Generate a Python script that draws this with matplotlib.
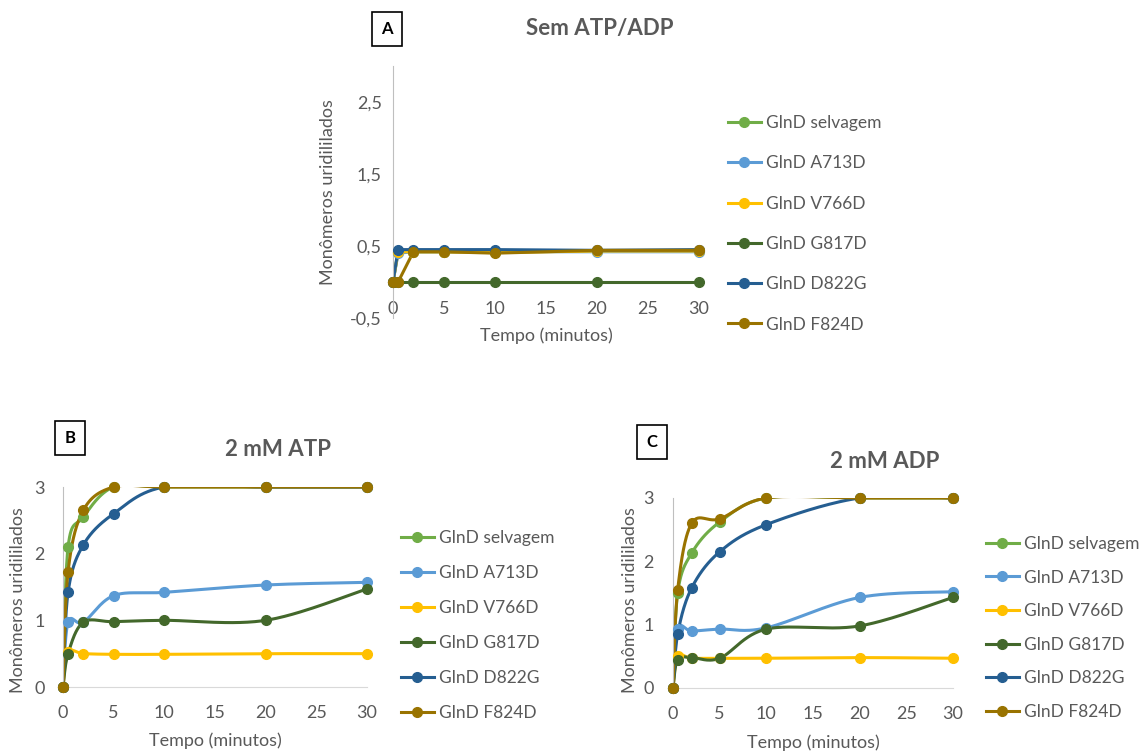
import numpy as np
import matplotlib.pyplot as plt
from matplotlib.ticker import FuncFormatter

plt.rcParams['font.family'] = ['Lato', 'DejaVu Sans']

# ============================================================
# Data
# ============================================================
tempo = [0, 0.5, 2, 5, 10, 20, 30]

series_names = ["GlnD selvagem", "GlnD A713D", "GlnD V766D",
                "GlnD G817D", "GlnD D822G", "GlnD F824D"]
series_colors = ["#70AD47", "#5B9BD5", "#FFC000",
                 "#43682B", "#255E91", "#997300"]

# A - Sem ATP/ADP
sem_selvagem = [0, 0.42, 0.42, 0.42, 0.42, 0.43, 0.43]
sem_a713d = [0, 0.40, 0.42, 0.42, 0.42, 0.42, 0.42]
sem_v766d = [0, 0.42, 0.42, 0.42, 0.41, 0.43, 0.43]
sem_g817d = [0, 0, 0, 0, 0, 0, 0]
sem_d822g = [0, 0.45, 0.45, 0.45, 0.45, 0.44, 0.45]
sem_f824d = [0, 0, 0.42, 0.42, 0.40, 0.44, 0.44]

# B - 2 mM ATP
atp_selvagem = [0, 2.10, 2.55, 3.0, 3.0, 3.0, 3.0]
atp_a713d = [0, 0.97, 0.97, 1.37, 1.42, 1.53, 1.57]
atp_v766d = [0, 0.52, 0.50, 0.49, 0.49, 0.50, 0.50]
atp_g817d = [0, 0.50, 0.97, 0.98, 1.00, 1.00, 1.47]
atp_d822g = [0, 1.42, 2.13, 2.60, 3.0, 3.0, 3.0]
atp_f824d = [0, 1.73, 2.65, 3.0, 3.0, 3.0, 3.0]

# C - 2 mM ADP
adp_selvagem = [0, 1.50, 2.13, 2.62, 3.0, 3.0, 3.0]
adp_a713d = [0, 0.93, 0.90, 0.93, 0.95, 1.43, 1.52]
adp_v766d = [0, 0.50, 0.47, 0.47, 0.47, 0.48, 0.47]
adp_g817d = [0, 0.45, 0.48, 0.47, 0.93, 0.98, 1.43]
adp_d822g = [0, 0.85, 1.58, 2.15, 2.58, 3.0, 3.0]
adp_f824d = [0, 1.55, 2.60, 2.67, 3.0, 3.0, 3.0]

grey = "#595959"


# ============================================================
# Excel-like smoothed line (Bezier through the points)
# ============================================================
def smooth_curve(x, y, sx, sy, n=30):
    p = np.column_stack([np.asarray(x, float) * sx, np.asarray(y, float) * sy])
    pts = []
    for i in range(len(p) - 1):
        p0 = p[i - 1] if i > 0 else p[i]
        p3 = p[i + 2] if i + 2 < len(p) else p[i + 1]
        c1 = p[i] + (p[i + 1] - p0) / 6.0
        c2 = p[i + 1] - (p3 - p[i]) / 6.0
        t = np.linspace(0, 1, n)[:, None]
        seg = ((1 - t) ** 3) * p[i] + 3 * ((1 - t) ** 2) * t * c1 \
            + 3 * (1 - t) * t ** 2 * c2 + t ** 3 * p[i + 1]
        pts.append(seg if i == 0 else seg[1:])
    pts = np.vstack(pts)
    return pts[:, 0] / sx, pts[:, 1] / sy


def draw_panel(ax, data, ylim, yticks, smooth, title, letter, title_xy, box_xy,
               legend_xy, legend_spacing, fs_pix, xpad, ypad, xlab_y, ylab_xy):
    for vals, name, col in zip(data, series_names, series_colors):
        if smooth:
            # scale so smoothing is done in screen-like space
            sx = fs_pix[0] / 30.0
            sy = fs_pix[1] / (ylim[1] - ylim[0])
            xs, ys = smooth_curve(tempo, vals, sx, sy)
        else:
            xs, ys = tempo, vals
        ax.plot(xs, ys, color=col, lw=2.2, solid_capstyle="round")
        ax.plot(tempo, vals, ls="none", marker="o", ms=7, color=col,
                clip_on=False, zorder=3)
        ax.plot([], [], color=col, lw=2.2, marker="o", ms=7, label=name)

    ax.set_xlim(0, 30)
    ax.set_ylim(*ylim)
    ax.set_xticks([0, 5, 10, 15, 20, 25, 30])
    ax.set_yticks(yticks)
    ax.yaxis.set_major_formatter(FuncFormatter(lambda v, p: f"{v:g}".replace(".", ",")))
    ax.tick_params(length=0, labelsize=13, colors=grey)
    ax.tick_params(axis="x", pad=xpad)
    ax.tick_params(axis="y", pad=ypad)
    for s in ["top", "right"]:
        ax.spines[s].set_visible(False)
    ax.spines["left"].set_color("#BFBFBF")
    ax.spines["bottom"].set_color("#D9D9D9")
    ax.set_xlabel("Tempo (minutos)", fontsize=13, color=grey, va="center")
    ax.set_ylabel("Monômeros uridililados", fontsize=13, color=grey, va="center")
    ax.xaxis.set_label_coords(0.5, xlab_y)
    ax.yaxis.set_label_coords(*ylab_xy)

    fig = ax.figure
    fig.text(title_xy[0] / 1148, 1 - title_xy[1] / 753, title, fontsize=16,
             fontweight="bold", color=grey, ha="center", va="center")
    fig.text(box_xy[0] / 1148, 1 - box_xy[1] / 753, letter, fontsize=12,
             fontweight="bold", color="black", ha="center", va="center",
             bbox=dict(boxstyle="square,pad=0.55", fc="white", ec="black", lw=1.2))

    ax.legend(loc="upper left", bbox_to_anchor=(legend_xy[0] / 1148, 1 - legend_xy[1] / 753),
              bbox_transform=fig.transFigure, frameon=False, fontsize=12.5,
              labelcolor=grey, handlelength=1.9, handletextpad=0.3,
              labelspacing=legend_spacing, borderaxespad=0, borderpad=0)


fig = plt.figure(figsize=(11.48, 7.53), dpi=100)

# panel A
axA = fig.add_axes([393 / 1148, 1 - 318 / 753, 306 / 1148, 252 / 753])
draw_panel(axA, [sem_selvagem, sem_a713d, sem_v766d, sem_g817d, sem_d822g, sem_f824d],
           (-0.5, 3), [-0.5, 0.5, 1.5, 2.5], False, "Sem ATP/ADP", "A",
           (600, 28), (387, 29), (728, 115), 1.40, (306, 252),
           -12, 8, -0.071, (-0.212, 0.5))
axA.spines["bottom"].set_visible(False)
axA.axhline(0, color="#D9D9D9", lw=1, zorder=0)

# panel B
axB = fig.add_axes([63 / 1148, 1 - 687 / 753, 304 / 1148, 200 / 753])
draw_panel(axB, [atp_selvagem, atp_a713d, atp_v766d, atp_g817d, atp_d822g, atp_f824d],
           (0, 3), [0, 1, 2, 3], True, "2 mM ATP", "B",
           (278, 450), (70, 438), (401, 530), 1.10, (304, 200),
           13, 13, -0.27, (-0.148, 0.435))

# panel C
axC = fig.add_axes([673 / 1148, 1 - 688 / 753, 280 / 1148, 190 / 753])
draw_panel(axC, [adp_selvagem, adp_a713d, adp_v766d, adp_g817d, adp_d822g, adp_f824d],
           (0, 3), [0, 1, 2, 3], True, "2 mM ADP", "C",
           (885, 462), (652, 442), (986, 536), 1.01, (280, 190),
           13, 14, -0.289, (-0.154, 0.463))

fig.savefig("out.png", dpi=100)
